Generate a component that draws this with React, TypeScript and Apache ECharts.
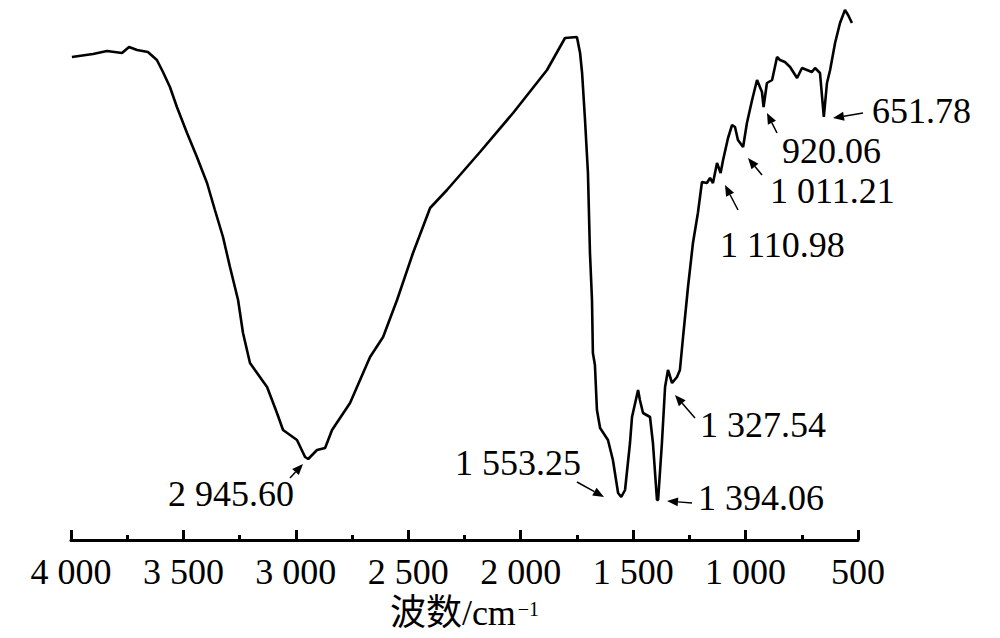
import React, { useEffect, useRef } from "react";
import * as echarts from "echarts";

// Wavenumber (cm-1) and relative transmittance
const wavenumber = [
  3996, 3902, 3840, 3773, 3742, 3706, 3658, 3618, 3591, 3560, 3529, 3484, 3440, 3395, 3360, 3324,
  3293, 3257, 3235, 3204, 3128, 3084, 3057, 2995, 2959, 2945, 2906, 2870, 2839, 2759, 2701, 2670,
  2612, 2550, 2479, 2403, 2328, 2181, 2034, 1883, 1803, 1750, 1736, 1727, 1714, 1701, 1692, 1683,
  1679, 1670, 1661, 1647, 1612, 1590, 1567, 1553, 1536, 1514, 1505, 1478, 1470, 1456, 1425, 1412,
  1394, 1389, 1372, 1358, 1345, 1327, 1305, 1292, 1278, 1256, 1234, 1212, 1194, 1172, 1158, 1145,
  1127, 1111, 1100, 1078, 1060, 1047, 1034, 1011, 994, 971, 949, 927, 920, 905, 882, 860,
  847, 825, 802, 771, 749, 727, 705, 691, 669, 652, 638, 624, 602, 580, 558, 544, 527,
];
const transmittance = [
  96.6, 97.2, 97.8, 97.4, 98.6, 98.0, 97.6, 96.0, 93.6, 90.6, 86.6, 81.4, 76.6, 71.4, 66.0, 60.6,
  54.6, 48.0, 41.4, 35.4, 30.6, 25.4, 22.0, 20.0, 16.6, 16.2, 18.0, 18.4, 22.0, 27.4, 33.4, 36.6,
  40.6, 48.0, 57.4, 66.4, 70.0, 77.6, 85.4, 94.0, 100.4, 100.6, 97.4, 93.4, 84.0, 73.4, 57.4, 48.0,
  37.4, 35.0, 26.0, 22.4, 20.0, 16.0, 9.4, 8.6, 10.0, 19.4, 24.6, 30.0, 28.0, 25.4, 24.6, 19.4,
  8.0, 8.0, 19.4, 30.6, 34.0, 31.4, 32.6, 34.0, 40.6, 50.6, 59.4, 65.4, 71.6, 71.4, 72.4, 71.4,
  75.4, 73.4, 76.0, 80.4, 83.0, 82.6, 80.0, 78.6, 83.4, 88.0, 92.0, 89.6, 86.6, 91.4, 92.0, 96.6,
  96.0, 95.6, 94.6, 92.4, 94.4, 94.0, 93.6, 94.4, 93.4, 84.6, 91.4, 94.0, 99.4, 103.4, 106.0, 105.0, 103.4,
];

const peakLabels = ["2 945.60", "1 553.25", "1 394.06", "1 327.54", "1 110.98", "1 011.21", "920.06", "651.78"];
const xTicks = { min: 500, max: 4000, step: 500 };
const axisTitle = "波数/cm";
const axisTitleSup = "−1";

// Layout of annotation texts and arrows (pixels): [textLeft, textCenterY, tailX, tailY, tipX, tipY]
const annLayout: number[][] = [
  [168, 494, 290, 478, 303, 464],
  [455, 463, 577, 482, 604, 497],
  [698, 498, 692, 503, 667, 501],
  [700, 425, 695, 418, 675, 395],
  [720, 245, 738, 210, 725, 185],
  [770, 191, 762, 175, 748, 158],
  [782, 151, 777, 133, 767, 113],
  [872, 111, 863, 113, 833, 118],
];

const FONT = '"Liberation Serif", "Times New Roman", "Noto Sans CJK SC", serif';

function fmt(v: number): string {
  const s = String(Math.round(v));
  return s.length > 3 ? s.slice(0, s.length - 3) + " " + s.slice(-3) : s;
}

function arrow(tx: number, ty: number, hx: number, hy: number): any[] {
  const dx = hx - tx;
  const dy = hy - ty;
  const len = Math.sqrt(dx * dx + dy * dy);
  const ux = dx / len;
  const uy = dy / len;
  const hl = 11;
  const hw = 4.5;
  const bx = hx - ux * hl;
  const by = hy - uy * hl;
  return [
    {
      type: "line",
      shape: { x1: tx, y1: ty, x2: bx, y2: by },
      style: { stroke: "#000", lineWidth: 1.5 },
      silent: true,
    },
    {
      type: "polygon",
      shape: {
        points: [
          [hx, hy],
          [bx - uy * hw, by + ux * hw],
          [bx + uy * hw, by - ux * hw],
        ],
      },
      style: { fill: "#000" },
      silent: true,
    },
  ];
}

export default function App() {
  const ref = useRef<HTMLDivElement>(null);
  useEffect(() => {
    if (!ref.current) return;
    const chart = echarts.init(ref.current, null, { renderer: "svg" });
    const data = wavenumber.map((w, i) => [w, transmittance[i]]);
    const graphics: any[] = [];
    peakLabels.forEach((t, i) => {
      const [lx, ly, tx, ty, hx, hy] = annLayout[i];
      graphics.push({
        type: "text",
        x: lx,
        y: ly,
        style: {
          text: t,
          font: `36px ${FONT}`,
          fill: "#000",
          align: "left",
          verticalAlign: "middle",
          textAlign: "left",
          textVerticalAlign: "middle",
        },
        silent: true,
      });
      graphics.push(...arrow(tx, ty, hx, hy));
    });
    chart.setOption({
      animation: false,
      backgroundColor: "#fff",
      grid: { left: 71, right: 142, top: 0, bottom: 98, containLabel: false },
      xAxis: {
        type: "value",
        min: xTicks.min,
        max: xTicks.max,
        interval: xTicks.step,
        inverse: true,
        name: `{a|${axisTitle}}{b|${axisTitleSup}}`,
        nameLocation: "middle",
        nameGap: 54,
        nameTextStyle: {
          rich: {
            a: { fontFamily: FONT, fontSize: 36, color: "#000", verticalAlign: "bottom" },
            b: { fontFamily: FONT, fontSize: 20, color: "#000", verticalAlign: "top", padding: [4, 0, 0, 2] },
          },
        },
        axisLine: { show: true, onZero: false, lineStyle: { color: "#000", width: 3 } },
        axisTick: { show: true, inside: true, length: 10, lineStyle: { color: "#000", width: 3 } },
        minorTick: { show: true, splitNumber: 2, length: 5, lineStyle: { color: "#000", width: 3 } },
        splitLine: { show: false },
        axisLabel: {
          margin: 14,
          fontFamily: FONT,
          fontSize: 36,
          color: "#000",
          formatter: (v: number) => fmt(v),
        },
      },
      yAxis: {
        type: "value",
        min: 0,
        max: 108,
        show: false,
        splitLine: { show: false },
      },
      series: [
        {
          type: "line",
          data,
          symbol: "none",
          smooth: false,
          clip: false,
          lineStyle: { color: "#000", width: 2.6 },
        },
      ],
      graphic: graphics,
    });
    return () => chart.dispose();
  }, []);
  return (
    <div
      ref={ref}
      style={{ position: "fixed", left: 0, top: 0, width: 1000, height: 638, background: "#fff" }}
    />
  );
}
